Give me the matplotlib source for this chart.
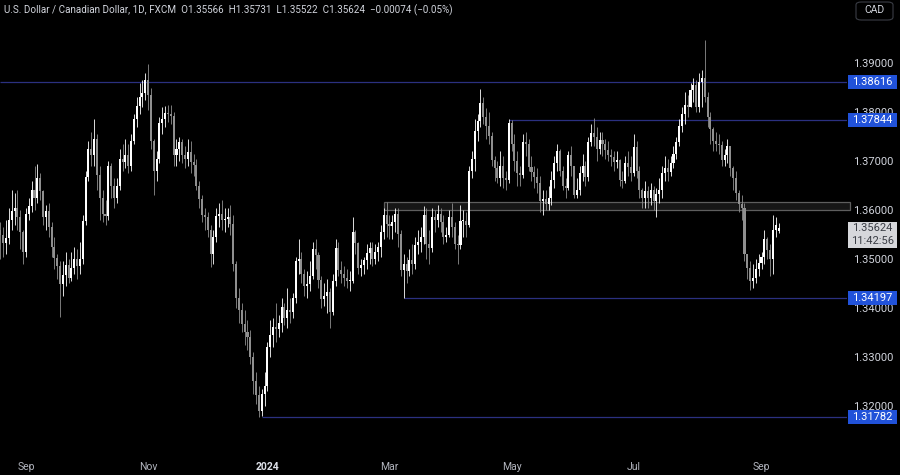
import matplotlib
matplotlib.use('Agg')
import matplotlib.pyplot as plt
import numpy as np
import pandas as pd
from matplotlib.patches import Rectangle

plt.rcParams['font.family'] = ['Roboto', 'DejaVu Sans']

# ---------------- data ----------------
title_text = "U.S. Dollar / Canadian Dollar, 1D, FXCM"
ohlc_text = "O1.35566  H1.35731  L1.35522  C1.35624  \u22120.00074 (\u22120.05%)"
currency = "CAD"
last_price_text = "1.35624"
countdown_text = "11:42:56"

holidays = ['2023-12-25', '2024-01-01']
dates = pd.bdate_range('2023-08-21', '2024-09-10')
dates = dates[~dates.isin(pd.to_datetime(holidays))]

first_open = 1.3560
last_open = 1.35566

closes = [
    1.3548, 1.3532, 1.3542, 1.3580, 1.3598,
    1.3605, 1.3585, 1.3555, 1.3515, 1.3592,
    1.3608, 1.3640, 1.3625, 1.3665, 1.3638,
    1.3585, 1.3598, 1.3565, 1.3525, 1.3503,
    1.3485, 1.3448, 1.3468, 1.3488, 1.3462,
    1.3482, 1.3500, 1.3485, 1.3500, 1.3578,
    1.3668, 1.3725, 1.3712, 1.3745, 1.3672,
    1.3625, 1.3592, 1.3588, 1.3690, 1.3650,
    1.3625, 1.3650, 1.3705, 1.3698, 1.3712,
    1.3690, 1.3740, 1.3785, 1.3812, 1.3830,
    1.3838, 1.3865, 1.3835, 1.3740, 1.3680,
    1.3705, 1.3778, 1.3785, 1.3798, 1.3795,
    1.3792, 1.3712, 1.3725, 1.3738, 1.3712,
    1.3705, 1.3718, 1.3698, 1.3692, 1.3650,
    1.3622, 1.3590, 1.3585, 1.3560, 1.3510,
    1.3545, 1.3588, 1.3592, 1.3580, 1.3582,
    1.3585, 1.3572, 1.3490, 1.3420, 1.3395,
    1.3368, 1.3352, 1.3340, 1.3300, 1.3250,
    1.3222, 1.3190, 1.3225, 1.3240,
    1.3320, 1.3345, 1.3362, 1.3358,
    1.3370, 1.3402, 1.3380, 1.3395, 1.3392,
    1.3420, 1.3495, 1.3500, 1.3470, 1.3445,
    1.3448, 1.3465, 1.3520, 1.3508, 1.3458,
    1.3418, 1.3425, 1.3432, 1.3392, 1.3455,
    1.3522, 1.3478, 1.3470, 1.3462, 1.3455,
    1.3455, 1.3555, 1.3532, 1.3482, 1.3488,
    1.3498, 1.3512, 1.3522, 1.3500, 1.3515,
    1.3525, 1.3555, 1.3590, 1.3572, 1.3568,
    1.3575, 1.3592, 1.3552, 1.3478, 1.3490,
    1.3475, 1.3498, 1.3490, 1.3528, 1.3535,
    1.3545, 1.3590, 1.3530, 1.3522, 1.3585,
    1.3580, 1.3592, 1.3575, 1.3545, 1.3550,
    1.3585, 1.3565, 1.3530, 1.3528, 1.3578,
    1.3578, 1.3570, 1.3680, 1.3705, 1.3762,
    1.3782, 1.3818, 1.3790, 1.3772, 1.3752,
    1.3702, 1.3685, 1.3665, 1.3690, 1.3665,
    1.3662, 1.3778, 1.3735, 1.3700, 1.3675,
    1.3672, 1.3738, 1.3735, 1.3688, 1.3678,
    1.3668, 1.3655, 1.3618, 1.3622, 1.3612,
    1.3625, 1.3662, 1.3695, 1.3720, 1.3680,
    1.3650, 1.3645, 1.3712, 1.3690, 1.3630,
    1.3640, 1.3675, 1.3690, 1.3668, 1.3738,
    1.3758, 1.3750, 1.3725, 1.3742, 1.3735,
    1.3722, 1.3712, 1.3708, 1.3698, 1.3702,
    1.3662, 1.3660, 1.3695, 1.3688, 1.3675,
    1.3728, 1.3680, 1.3640, 1.3625, 1.3638,
    1.3625, 1.3640, 1.3618, 1.3632, 1.3640,
    1.3675, 1.3685, 1.3678, 1.3695, 1.3715,
    1.3738, 1.3772, 1.3795, 1.3815, 1.3810,
    1.3845, 1.3855, 1.3810, 1.3862, 1.3870,
    1.3830, 1.3790, 1.3765, 1.3740, 1.3735,
    1.3732, 1.3702, 1.3712, 1.3730, 1.3685,
    1.3665, 1.3635, 1.3612, 1.3605, 1.3510,
    1.3482, 1.3455, 1.3462, 1.3480, 1.3492,
    1.3505, 1.3540, 1.3518, 1.3500, 1.3560,
    1.35698, 1.35624,
]

highs = [
    1.3575, 1.3565, 1.3580, 1.3605, 1.3640,
    1.3635, 1.3640, 1.3600, 1.3560, 1.3605,
    1.3625, 1.3660, 1.3690, 1.3694, 1.3675,
    1.3640, 1.3610, 1.3615, 1.3575, 1.3545,
    1.3510, 1.3495, 1.3495, 1.3515, 1.3500,
    1.3515, 1.3525, 1.3520, 1.3535, 1.3590,
    1.3680, 1.3740, 1.3760, 1.3785, 1.3755,
    1.3690, 1.3640, 1.3620, 1.3700, 1.3695,
    1.3665, 1.3665, 1.3725, 1.3735, 1.3745,
    1.3735, 1.3755, 1.3795, 1.3830, 1.3860,
    1.3865, 1.3880, 1.3898, 1.3850, 1.3745,
    1.3720, 1.3790, 1.3810, 1.3812, 1.3815,
    1.3815, 1.3800, 1.3745, 1.3750, 1.3745,
    1.3730, 1.3745, 1.3740, 1.3715, 1.3705,
    1.3660, 1.3630, 1.3605, 1.3595, 1.3570,
    1.3560, 1.3605, 1.3615, 1.3620, 1.3605,
    1.3605, 1.3610, 1.3590, 1.3495, 1.3440,
    1.3410, 1.3395, 1.3375, 1.3355, 1.3310,
    1.3270, 1.3240, 1.3235, 1.3270,
    1.3330, 1.3375, 1.3380, 1.3410,
    1.3385, 1.3420, 1.3410, 1.3440, 1.3420,
    1.3430, 1.3505, 1.3541, 1.3515, 1.3480,
    1.3475, 1.3495, 1.3535, 1.3540, 1.3515,
    1.3465, 1.3450, 1.3460, 1.3440, 1.3470,
    1.3540, 1.3535, 1.3495, 1.3485, 1.3480,
    1.3475, 1.3585, 1.3560, 1.3535, 1.3500,
    1.3505, 1.3530, 1.3535, 1.3535, 1.3530,
    1.3535, 1.3570, 1.3605, 1.3617, 1.3590,
    1.3590, 1.3605, 1.3605, 1.3560, 1.3510,
    1.3505, 1.3520, 1.3530, 1.3545, 1.3560,
    1.3565, 1.3608, 1.3605, 1.3560, 1.3605,
    1.3600, 1.3610, 1.3605, 1.3590, 1.3565,
    1.3600, 1.3615, 1.3575, 1.3550, 1.3610,
    1.3600, 1.3595, 1.3690, 1.3720, 1.3785,
    1.3795, 1.3846, 1.3830, 1.3808, 1.3800,
    1.3760, 1.3710, 1.3700, 1.3720, 1.3710,
    1.3680, 1.3785, 1.3784, 1.3755, 1.3720,
    1.3690, 1.3755, 1.3760, 1.3745, 1.3710,
    1.3690, 1.3685, 1.3670, 1.3640, 1.3640,
    1.3650, 1.3680, 1.3710, 1.3735, 1.3725,
    1.3690, 1.3665, 1.3720, 1.3730, 1.3690,
    1.3665, 1.3690, 1.3715, 1.3700, 1.3750,
    1.3775, 1.3788, 1.3770, 1.3760, 1.3760,
    1.3745, 1.3740, 1.3725, 1.3720, 1.3720,
    1.3705, 1.3680, 1.3710, 1.3720, 1.3710,
    1.3755, 1.3740, 1.3690, 1.3645, 1.3660,
    1.3650, 1.3655, 1.3650, 1.3645, 1.3665,
    1.3690, 1.3710, 1.3705, 1.3710, 1.3730,
    1.3750, 1.3785, 1.3810, 1.3840, 1.3835,
    1.3860, 1.3870, 1.3865, 1.3880, 1.3885,
    1.3946, 1.3840, 1.3800, 1.3770, 1.3760,
    1.3755, 1.3740, 1.3725, 1.3745, 1.3730,
    1.3690, 1.3680, 1.3640, 1.3630, 1.3615,
    1.3510, 1.3495, 1.3490, 1.3500, 1.3510,
    1.3515, 1.3560, 1.3545, 1.3530, 1.3590,
    1.3585, 1.35731,
]

lows = [
    1.3500, 1.3505, 1.3510, 1.3530, 1.3560,
    1.3570, 1.3560, 1.3520, 1.3490, 1.3505,
    1.3580, 1.3595, 1.3600, 1.3615, 1.3620,
    1.3570, 1.3560, 1.3545, 1.3505, 1.3480,
    1.3460, 1.3381, 1.3425, 1.3445, 1.3450,
    1.3455, 1.3470, 1.3460, 1.3470, 1.3490,
    1.3570, 1.3660, 1.3690, 1.3690, 1.3640,
    1.3580, 1.3575, 1.3570, 1.3580, 1.3625,
    1.3605, 1.3615, 1.3640, 1.3680, 1.3685,
    1.3675, 1.3680, 1.3735, 1.3770, 1.3795,
    1.3810, 1.3825, 1.3805, 1.3725, 1.3630,
    1.3660, 1.3695, 1.3755, 1.3770, 1.3780,
    1.3775, 1.3690, 1.3690, 1.3700, 1.3695,
    1.3685, 1.3690, 1.3675, 1.3670, 1.3640,
    1.3605, 1.3575, 1.3560, 1.3545, 1.3484,
    1.3490, 1.3535, 1.3565, 1.3560, 1.3555,
    1.3565, 1.3550, 1.3475, 1.3400, 1.3370,
    1.3350, 1.3325, 1.3315, 1.3285, 1.3225,
    1.3205, 1.3178, 1.3180, 1.3200,
    1.3230, 1.3300, 1.3320, 1.3330,
    1.3340, 1.3350, 1.3365, 1.3360, 1.3370,
    1.3380, 1.3410, 1.3470, 1.3450, 1.3425,
    1.3420, 1.3435, 1.3460, 1.3480, 1.3440,
    1.3400, 1.3405, 1.3390, 1.3360, 1.3385,
    1.3445, 1.3465, 1.3450, 1.3445, 1.3440,
    1.3435, 1.3450, 1.3510, 1.3470, 1.3465,
    1.3470, 1.3480, 1.3490, 1.3485, 1.3490,
    1.3495, 1.3505, 1.3540, 1.3545, 1.3540,
    1.3540, 1.3555, 1.3525, 1.3465, 1.3420,
    1.3450, 1.3465, 1.3470, 1.3480, 1.3510,
    1.3515, 1.3530, 1.3500, 1.3490, 1.3515,
    1.3555, 1.3565, 1.3555, 1.3530, 1.3535,
    1.3545, 1.3545, 1.3520, 1.3490, 1.3520,
    1.3545, 1.3545, 1.3565, 1.3665, 1.3680,
    1.3740, 1.3770, 1.3775, 1.3745, 1.3735,
    1.3690, 1.3660, 1.3655, 1.3650, 1.3645,
    1.3640, 1.3655, 1.3720, 1.3680, 1.3650,
    1.3650, 1.3665, 1.3710, 1.3680, 1.3660,
    1.3645, 1.3635, 1.3595, 1.3590, 1.3600,
    1.3600, 1.3610, 1.3645, 1.3680, 1.3670,
    1.3640, 1.3625, 1.3640, 1.3670, 1.3625,
    1.3625, 1.3630, 1.3660, 1.3650, 1.3660,
    1.3730, 1.3730, 1.3700, 1.3715, 1.3710,
    1.3705, 1.3700, 1.3690, 1.3680, 1.3685,
    1.3650, 1.3645, 1.3655, 1.3670, 1.3660,
    1.3670, 1.3665, 1.3625, 1.3605, 1.3605,
    1.3605, 1.3610, 1.3600, 1.3585, 1.3615,
    1.3625, 1.3660, 1.3660, 1.3670, 1.3685,
    1.3705, 1.3730, 1.3760, 1.3775, 1.3790,
    1.3810, 1.3820, 1.3800, 1.3800, 1.3810,
    1.3820, 1.3770, 1.3735, 1.3720, 1.3720,
    1.3715, 1.3690, 1.3690, 1.3695, 1.3670,
    1.3640, 1.3620, 1.3595, 1.3580, 1.3495,
    1.3460, 1.3437, 1.3440, 1.3450, 1.3465,
    1.3480, 1.3490, 1.3500, 1.3465, 1.3470,
    1.3545, 1.35522,
]

levels = [1.38616, 1.37844, 1.34197, 1.31782]
level_starts = [None, '2024-04-30', '2024-03-08', '2023-12-28']
zone_low, zone_high = 1.3600, 1.3617
zone_start = '2024-02-28'

month_ticks = ['2023-09', '2023-11', '2024-01', '2024-03', '2024-05', '2024-07', '2024-09']
month_labels = ['Sep', 'Nov', '2024', 'Mar', 'May', 'Jul', 'Sep']
y_ticks = [1.32, 1.33, 1.34, 1.35, 1.36, 1.37, 1.38, 1.39]

# ---------------- styles ----------------
BG = '#000000'
UP = '#ffffff'
DOWN = '#8f8f8f'
LINE = '#2b3080'
BOX = '#2152d9'
TXT = '#d1d4dc'

n = len(dates)
closes = np.array(closes[:n])
highs = np.array(highs[:n])
lows = np.array(lows[:n])
opens = np.concatenate([[first_open], closes[:-1]])
opens[-1] = last_open
highs = np.maximum(highs, np.maximum(opens, closes))
lows = np.minimum(lows, np.minimum(opens, closes))
x = np.arange(n)

fig = plt.figure(figsize=(9, 4.75), dpi=100, facecolor=BG)
ax = fig.add_axes([0, 23/475, 847/900, 452/475], facecolor=BG)

ylo, yhi = 1.31061, 1.40286
ax.set_ylim(ylo, yhi)
xlo, xhi = -0.15, 298.1
ax.set_xlim(xlo, xhi)

def idx_of(d):
    return int(np.searchsorted(dates.values, np.datetime64(pd.Timestamp(d))))

# zone
zs = idx_of(zone_start)
ax.add_patch(Rectangle((zs, zone_low), xhi - zs + 1, zone_high - zone_low,
                       facecolor='#161616', edgecolor='#5e5e5e', lw=0.9,
                       zorder=1, clip_on=False))

# level lines
for lv, st in zip(levels, level_starts):
    s = xlo if st is None else idx_of(st)
    ax.plot([s, xhi], [lv, lv], color=LINE, lw=0.9, zorder=2, solid_capstyle='butt')

# candles
up = closes >= opens
cols = np.where(up, UP, DOWN)
ax.vlines(x, lows, highs, colors=cols, lw=0.6, zorder=3)
body_h = np.maximum(np.abs(closes - opens), 0.00018)
body_b = np.minimum(opens, closes)
ax.bar(x, body_h, bottom=body_b, width=0.72, color=cols, edgecolor='none', zorder=4)

# axes styling
for sp in ax.spines.values():
    sp.set_visible(False)
ax.yaxis.tick_right()
ax.set_yticks(y_ticks)
ax.set_yticklabels([f'{v:.5f}' for v in y_ticks])
ax.tick_params(axis='y', length=0, pad=4, labelsize=8, labelcolor=TXT)

tick_pos = [idx_of(m + '-01') for m in month_ticks]
ax.set_xticks(tick_pos)
ax.set_xticklabels(month_labels)
ax.tick_params(axis='x', length=0, pad=7, labelsize=7.5, labelcolor='#b2b5be')
for lab in ax.get_xticklabels():
    if lab.get_text() == '2024':
        lab.set_fontweight('bold')
        lab.set_color('#e0e3eb')

# price boxes on the axis
ytr = ax.get_yaxis_transform()
px = 1 / 4900.0
for lv in levels:
    ax.add_patch(Rectangle((1.0013, lv - 7 * px), 0.0578, 14 * px, transform=ytr,
                           facecolor=BOX, edgecolor='none', clip_on=False, zorder=10))
    ax.text(1.0302, lv, f'{lv:.5f}', transform=ytr, ha='center', va='center',
            fontsize=8, color='white', clip_on=False, zorder=11)

lastc = closes[-1]
ax.add_patch(Rectangle((1.0013, lastc - 19.5 * px), 0.0578, 26 * px, transform=ytr,
                       facecolor='#d6d7db', edgecolor='none', clip_on=False, zorder=10))
ax.text(1.0302, lastc, last_price_text, transform=ytr, ha='center', va='center',
        fontsize=8, color='#3a3d45', clip_on=False, zorder=11)
ax.text(1.0302, lastc - 12.5 * px, countdown_text, transform=ytr, ha='center', va='center',
        fontsize=8, color='#3a3d45', clip_on=False, zorder=11)

# title
fig.text(4/900, 1 - 10/475, title_text + "  " + ohlc_text, ha='left', va='center',
         fontsize=7.1, color=TXT)

# currency box
fig.patches.append(matplotlib.patches.FancyBboxPatch(
    (856/900, 1 - 20/475), 37/900, 18/475, boxstyle='round,pad=0,rounding_size=0.006',
    transform=fig.transFigure, facecolor=BG, edgecolor='#3a3d45', lw=0.8))
fig.text(874.5/900, 1 - 10/475, currency, ha='center', va='center', fontsize=7.5, color=TXT)

fig.savefig('out.png', dpi=100, facecolor=BG)
